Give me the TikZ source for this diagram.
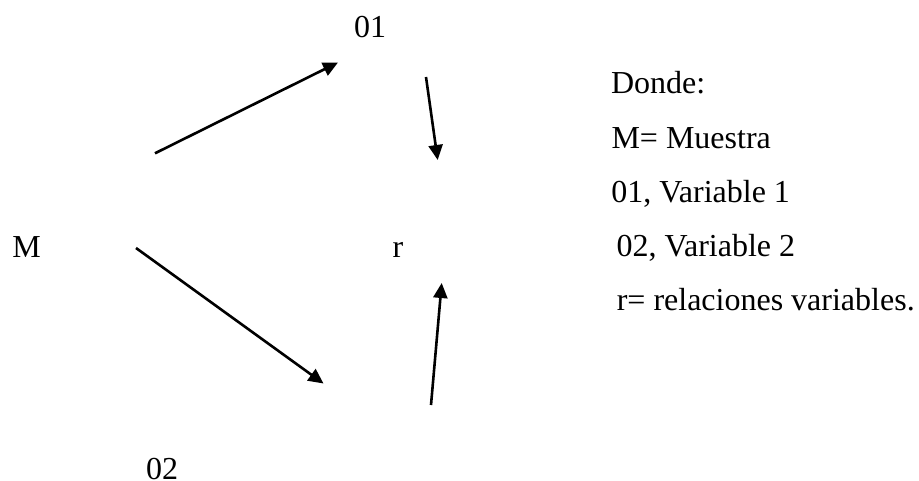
\documentclass[tikz,border=0pt]{standalone}
\usepackage{fontspec}
\setmainfont{Liberation Serif}
\usetikzlibrary{arrows.meta}
\tikzset{
  lbl/.style={anchor=base west, inner sep=0pt, outer sep=0pt, font=\fontsize{32}{38}\selectfont},
  arr/.style={line width=2.6pt, -{Triangle[length=15pt,width=14pt]}}
}
\begin{document}
\begin{tikzpicture}[x=1pt,y=-1pt]
\useasboundingbox (0,0) rectangle (919,481);
% main labels
\node[lbl] (o1) at (354,38) {01};
\node[lbl] (m) at (12.3,258) {M};
\node[lbl] (r) at (392.5,258) {r};
\node[lbl] (o2) at (146,479) {02};
% legend
\node[lbl] (l1) at (611,94) {Donde:};
\node[lbl] (l2) at (611.5,149) {M= Muestra};
\node[lbl] (l3) at (611.3,203) {01, Variable 1};
\node[lbl] (l4) at (616.5,257) {02, Variable 2};
\node[lbl] (l5) at (616.8,310) {r= relaciones variables.};
% arrow endpoints
\coordinate (a1s) at (155,153.3);
\coordinate (a1e) at (338,62.5);
\coordinate (a2s) at (426,77);
\coordinate (a2e) at (437.7,160);
\coordinate (a3s) at (136,248);
\coordinate (a3e) at (323.5,383.5);
\coordinate (a4s) at (431,405);
\coordinate (a4e) at (441.7,283);
\draw[arr] (a1s) -- (a1e);
\draw[arr] (a2s) -- (a2e);
\draw[arr] (a3s) -- (a3e);
\draw[arr] (a4s) -- (a4e);
\end{tikzpicture}
\end{document}
